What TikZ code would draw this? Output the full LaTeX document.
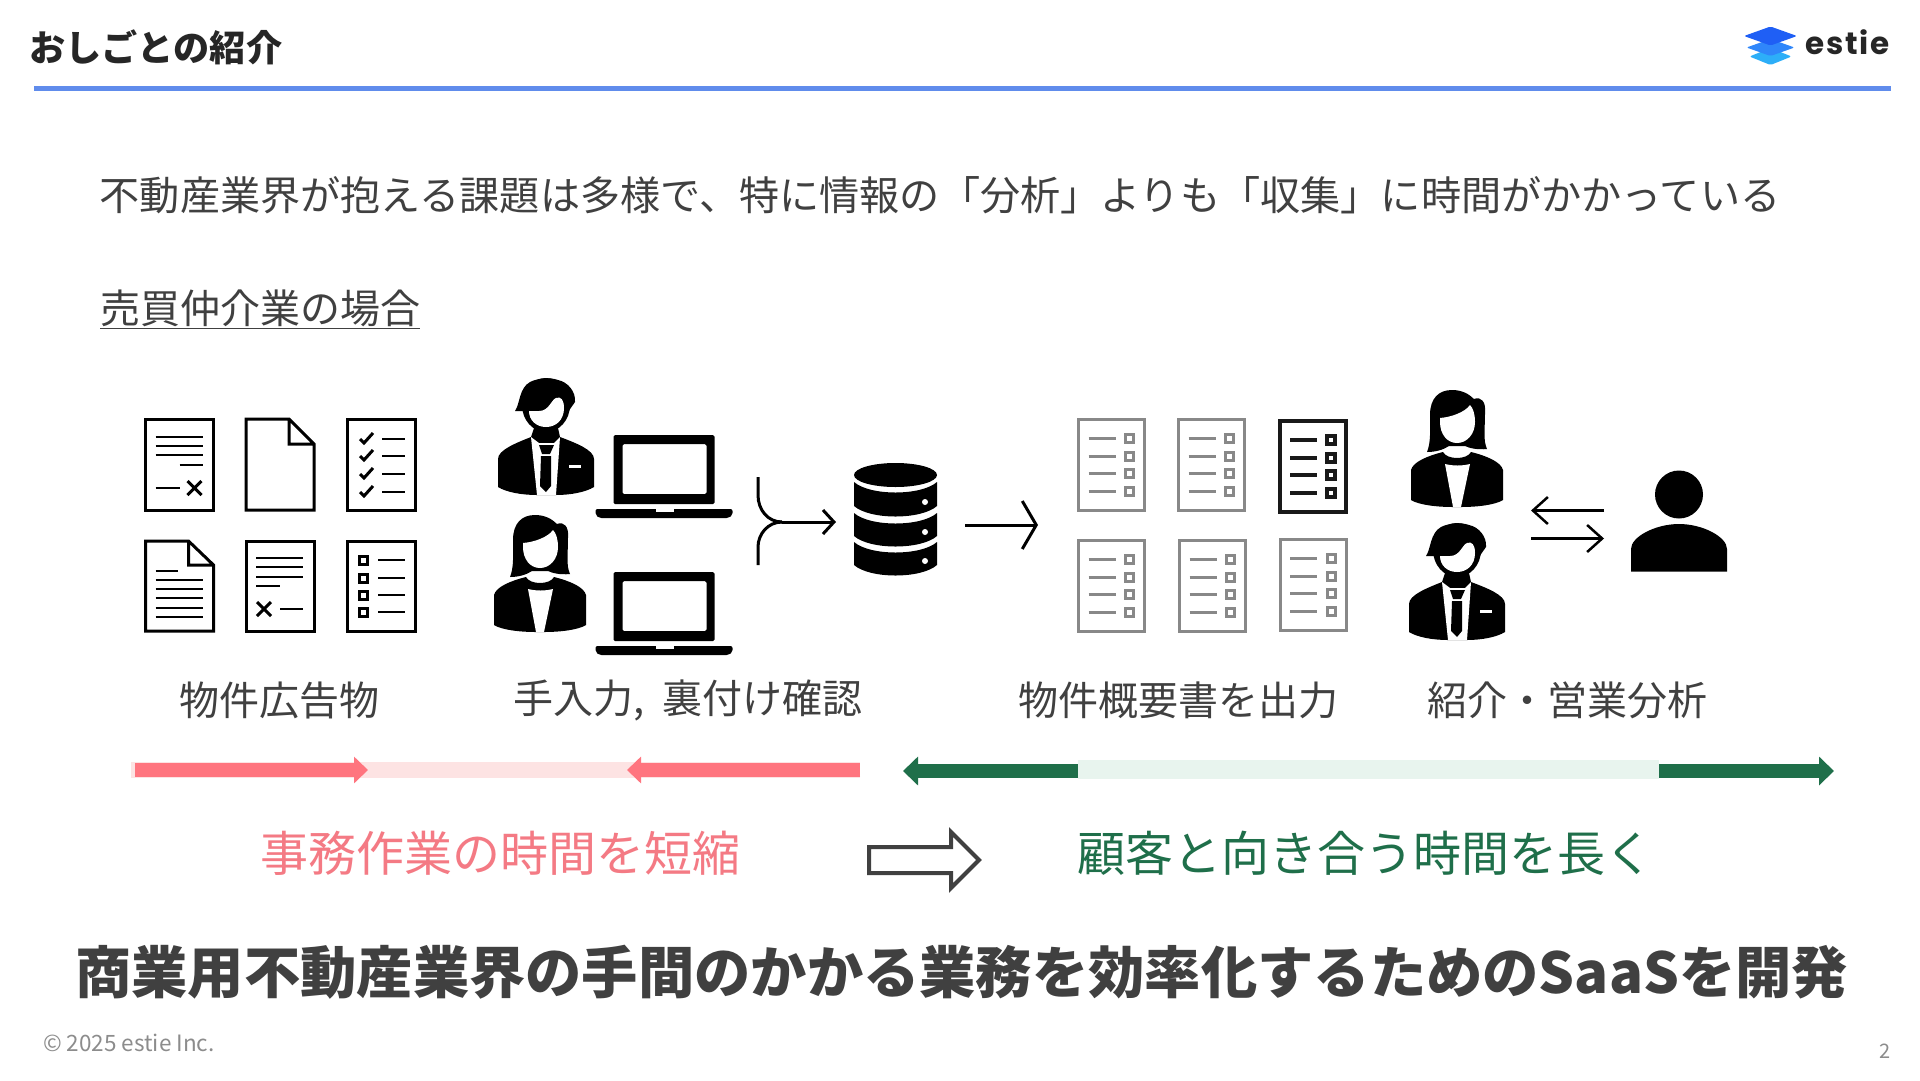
\documentclass[tikz,border=0pt]{standalone}
\usepackage{fontspec}
\setmainfont{Noto Sans CJK JP}
\newfontfamily\logofont[LetterSpace=6]{Poppins}
\usetikzlibrary{arrows.meta}
\definecolor{inkgray}{HTML}{404040}
\definecolor{docgray}{HTML}{888888}
\definecolor{rulblue}{HTML}{608CEC}
\definecolor{pinkbar}{HTML}{FF757F}
\definecolor{pinkbg}{HTML}{FDE3E3}
\definecolor{pinktxt}{HTML}{F47A84}
\definecolor{greenbar}{HTML}{1F6F4A}
\definecolor{greenbg}{HTML}{E8F4EE}

\begin{document}
\begin{tikzpicture}[x=1pt,y=-1pt,
txt/.style={inner sep=0pt,text=inkgray,font=\fontsize{40}{48}\selectfont},
big/.style={inner sep=0pt,font=\fontsize{48}{56}\selectfont},
doc/.style={line width=3pt,color=black},
greydoc/.style={line width=3pt,color=docgray},
darkdoc/.style={line width=4.5pt,color=black!90},
thin/.style={line width=3pt},
barb/.style={thin,-{Straight Barb[length=14pt,width=48pt]}},
smallbarb/.style={thin,-{Straight Barb[length=11pt,width=24pt]}},
swap/.style={line width=2.5pt,-{Straight Barb[length=15pt,width=27pt]}},
pinkarr/.style={pinkbar,line width=14pt,-{Triangle[length=14pt,width=26pt]}},
greenarr/.style={greenbar,line width=14pt,-{Triangle[length=15pt,width=28pt]}},
pics/textdoc/.style={code={
  \draw (1,1) rectangle (69,92);
  \foreach \y in {19,28,37} {\draw[line width=2.4pt] (11,\y) -- (58,\y);}
  \draw[line width=2.4pt] (35,47) -- (58,47) (11,70) -- (35,70);
  \draw (43,63) -- (57,77) (57,63) -- (43,77);}},
pics/crossdoc/.style={code={
  \draw (1,1) rectangle (69,91);
  \foreach \y in {18,27,37} {\draw[line width=2.4pt] (11,\y) -- (58,\y);}
  \draw[line width=2.4pt] (11,46) -- (35,46) (35,69) -- (58,69);
  \draw (12,62) -- (26,76) (26,62) -- (12,76);}},
pics/blankdoc/.style={code={
  \draw (1,1) -- (44,1) -- (69,26) -- (69,92) -- (1,92) -- cycle (44,1) -- (44,26) -- (69,26);}},
pics/pagedoc/.style={code={
  \draw (1,1) -- (44,1) -- (69,25) -- (69,91) -- (1,91) -- cycle (44,1) -- (44,25) -- (69,25);
  \foreach \y in {40,49,58,68,77} {\draw[line width=2.4pt] (11,\y) -- (58,\y);}
  \draw[line width=2.4pt] (11,31) -- (33,31);}},
pics/checkdoc/.style={code={
  \draw (1,1) rectangle (69,92);
  \foreach \y in {21,38,56,74} {
    \draw (14,\y) -- (18,\y+4) -- (27,\y-6);
    \draw[line width=2.4pt] (36,\y) -- (59,\y);}}},
pics/boxdoc/.style={code={
  \draw (1,1) rectangle (69,91);
  \foreach \y in {20,38,55,72} {
    \draw (13,\y-4) rectangle (21,\y+4);
    \draw[line width=2.4pt] (32,\y) -- (59,\y);}}},
pics/listdoc/.style={code={
  \draw (1,1) rectangle (67,92);
  \foreach \y in {20,38,55,73} {
    \draw (11,\y) -- (38,\y);
    \draw (48,\y-4) rectangle (56,\y+4);}}},
pics/laptop/.style={code={
  \fill[even odd rule,rounded corners=1.5pt] (18,0) rectangle (119,69) (27,9) rectangle (111,59);
  \fill[rounded corners=2pt] (0,74) -- (137,74) -- (137,80) -- (133,83) -- (4,83) -- (0,80) -- cycle;
  \fill[white] (60,74) rectangle (78,77);}},
pics/manicon/.style={code={
  \fill (0,27) ellipse (24 and 27);
  \fill (-31,33) .. controls (-26,26) and (-27,10) .. (-16,4) .. controls (-8,0) and (4,-1) .. (12,2) .. controls (22,4) and (30,14) .. (29,24) -- (22,34) -- (-17,33) -- cycle;
  \fill[white] (-17,33) -- (-7,33) .. controls (3,33) and (5,22) .. (10,20) .. controls (15,18) and (18,22) .. (18,30) .. controls (18,42) and (10,49) .. (0,49) .. controls (-10,49) and (-17,42) .. (-17,33) -- cycle;
  \fill (-48,81) .. controls (-48,72) and (-30,65) .. (-15,59) -- (-12,50) -- (12,50) -- (14,59) .. controls (30,65) and (48,72) .. (48,81) -- (48,109) .. controls (40,114) and (25,117) .. (10,117) -- (-9,117) .. controls (-25,117) and (-40,114) .. (-48,109) -- cycle;
  \fill[white] (-15,59) -- (-7,65) -- (8,65) -- (14,59) -- (10,117) -- (-9,117) -- cycle;
  \fill (-7,67) -- (8,67) -- (4,76) -- (-4,76) -- cycle;
  \fill (-5,78) -- (5,78) -- (5,108) -- (0,114) -- (-6,108) -- cycle;
  \fill[white] (23,87) rectangle (35,90);}},
pics/womanicon/.style={code={
  \fill (-30,62) .. controls (-26,52) and (-27,40) .. (-27,25) .. controls (-27,8) and (-18,0) .. (-5,0) .. controls (5,0) and (12,4) .. (17,9) .. controls (24,6) and (29,12) .. (28,22) .. controls (28,40) and (26,50) .. (30,59) .. controls (20,60) and (12,58) .. (8,56) -- (-8,56) .. controls (-14,60) and (-22,62) .. (-30,62) -- cycle;
  \fill[white] (-17,28) .. controls (-5,27) and (8,22) .. (13,15) .. controls (16,18) and (18,24) .. (18,32) .. controls (18,44) and (10,53) .. (0,53) .. controls (-10,53) and (-17,44) .. (-17,32) -- cycle;
  \fill (-46,80) .. controls (-44,72) and (-30,66) .. (-14,62) .. controls (-10,70) and (10,70) .. (14,62) .. controls (30,66) and (44,72) .. (46,80) -- (46,110) .. controls (38,115) and (20,117) .. (4,117) -- (-4,117) .. controls (-20,117) and (-38,115) .. (-46,110) -- cycle;
  \fill[white] (-12,74) -- (-4,117) -- (4,117) -- (13,74) .. controls (5,76) and (-4,76) .. (-12,74) -- cycle;}}]
\useasboundingbox (0,0) rectangle (1920,1080);
\fill[white] (0,0) rectangle (1920,1080);

\node[inner sep=0pt,anchor=west,text=black!85,font=\fontsize{36.2}{44}\selectfont\bfseries] (title) at (29,47) {おしごとの紹介};
\fill[rulblue] (34,86) rectangle (1891,91);
\foreach \c/\y/\w/\h in {2DAEF8/56.5/21/8.5,2F86FA/47.5/24/8.5,1F5FF5/36/26.5/9.5} {
  \definecolor{layer}{HTML}{\c}
  \fill[layer,rounded corners=2pt] (1770.5-\w,\y) -- (1770.5,\y-\h) -- (1770.5+\w,\y) -- (1770.5,\y+\h) -- cycle;}
\node[inner sep=0pt,anchor=base west,text=black!85,font=\fontsize{31}{36}\logofont\bfseries] (logo) at (1805,54) {estie};

\node[inner sep=0pt,text=inkgray,anchor=west,font=\fontsize{40.15}{48}\selectfont] (lead) at (99.5,195) {不動産業界が抱える課題は多様で、特に情報の「分析」よりも「収集」に時間がかかっている};
\node[txt,anchor=west] (sub) at (100,309) {\underline{売買仲介業の場合}};

\pic[doc] at (144.5,418) {textdoc};
\pic[doc] at (245,418) {blankdoc};
\pic[doc] at (346,418) {checkdoc};
\pic[doc] at (144.5,540) {pagedoc};
\pic[doc] at (245,540) {crossdoc};
\pic[doc] at (346,540) {boxdoc};

\pic at (546,378) {manicon};
\pic at (540,515) {womanicon};
\pic at (595.5,435) {laptop};
\pic at (595.5,572) {laptop};

\coordinate (mergea) at (758,477);
\coordinate (mergeb) at (758,565);
\coordinate (mergemid) at (782,522);
\coordinate (mergetip) at (836,522);
\draw[thin] (mergea) -- ++(0,18) .. controls (758,510) and (768,522) .. (mergemid);
\draw[thin] (mergeb) -- ++(0,-18) .. controls (758,534) and (768,522) .. (mergemid);
\draw[smallbarb] (mergemid) -- (mergetip);

\fill (895.5,475) ellipse (41.5 and 12);
\foreach \a/\b in {482/506,513/536,542/565} {
  \fill (854,\a) .. controls (870,\a+14) and (921,\a+14) .. (937,\a) -- (937,\b) .. controls (921,\b+14) and (870,\b+14) .. (854,\b) -- cycle;}
\foreach \y in {502,532,561} {\fill[white] (925,\y) circle (3);}

\coordinate (outa) at (965,525);
\coordinate (outb) at (1038,525);
\draw[barb] (outa) -- (outb);

\pic[greydoc] at (1077.5,418) {listdoc};
\pic[greydoc] at (1177.5,418) {listdoc};
\pic[darkdoc] at (1279,420) {listdoc};
\pic[greydoc] at (1077.5,539) {listdoc};
\pic[greydoc] at (1178.5,539) {listdoc};
\pic[greydoc] at (1279,538.5) {listdoc};

\pic at (1457,390) {womanicon};
\pic at (1457,523) {manicon};
\coordinate (swapl) at (1531,510.5);
\coordinate (swapr) at (1604,510.5);
\coordinate (swapm) at (1531,538.5);
\coordinate (swapn) at (1604,538.5);
\draw[swap] (swapr) -- (swapl);
\draw[swap] (swapm) -- (swapn);
\fill (1679,494.5) circle (24);
\fill (1631,571.5) -- (1631,549) .. controls (1631,537) and (1655,524) .. (1679,524) .. controls (1703,524) and (1727,537) .. (1727,549) -- (1727,571.5) -- cycle;

\node[txt,anchor=west] (ads) at (179,700) {物件広告物};
\node[txt,anchor=west] (input) at (513,700) {手入力,\hspace{18pt}裏付け確認};
\node[txt,anchor=west] (sheet) at (1018,700) {物件概要書を出力};
\node[txt,anchor=west] (sales) at (1427,700) {紹介・営業分析};

\fill[pinkbg] (131,762) rectangle (860,778);
\fill[greenbg] (1078,760) rectangle (1659,779);
\coordinate (pinka) at (135,770);
\coordinate (pinkb) at (368,770);
\coordinate (pinkc) at (860,770);
\coordinate (pinkd) at (627,770);
\coordinate (greena) at (1078,771);
\coordinate (greenb) at (903,771);
\coordinate (greenc) at (1659,771);
\coordinate (greend) at (1834,771);
\draw[pinkarr] (pinka) -- (pinkb);
\draw[pinkarr] (pinkc) -- (pinkd);
\draw[greenarr] (greena) -- (greenb);
\draw[greenarr] (greenc) -- (greend);

\node[big,anchor=west,text=pinktxt] (shorten) at (260,853) {事務作業の時間を短縮};
\draw[inkgray,line width=4pt] (869,847) -- (951,847) -- (951,832) -- (979,860) -- (951,888) -- (951,873) -- (869,873) -- cycle;
\node[big,anchor=west,text=greenbar] (longer) at (1077,853) {顧客と向き合う時間を長く};

\node[inner sep=0pt,anchor=west,text=inkgray,font=\fontsize{56.3}{64}\selectfont\bfseries] (goal) at (75,972) {商業用不動産業界の手間のかかる業務を効率化するためのSaaSを開発};
\node[inner sep=0pt,anchor=west,text=black!45,font=\fontsize{22.5}{26}\selectfont] (copy) at (43,1043) {© 2025 estie Inc.};
\node[inner sep=0pt,anchor=east,text=black!45,font=\fontsize{20}{24}\selectfont] (page) at (1891,1051) {2};
\end{tikzpicture}
\end{document}
